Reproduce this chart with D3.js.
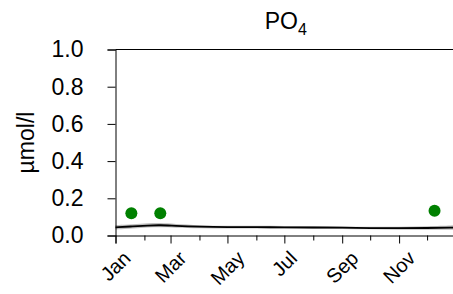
<!DOCTYPE html>
<html>
<head>
<meta charset="utf-8">
<script src="https://cdn.jsdelivr.net/npm/d3@7"></script>
<style>
  body { margin: 0; background: #fff; }
  text { font-family: "Liberation Sans", Arial, sans-serif; fill: #000; }
</style>
</head>
<body>
<svg></svg>
<script>
var width = 453;
var height = 294;

// smoothed seasonal fit of PO4 with its band
var fitDates = ["2021-01-01", "2021-01-20", "2021-02-05", "2021-02-18", "2021-03-05", "2021-04-01", "2021-05-01",
                "2021-06-01", "2021-07-01", "2021-08-01", "2021-09-01", "2021-10-01", "2021-11-01", "2021-12-01", "2021-12-31"];
var fitMean  = [0.044, 0.049, 0.054, 0.056, 0.052, 0.047, 0.045, 0.045, 0.044, 0.043, 0.042, 0.040, 0.039, 0.040, 0.043];
var fitLow   = [0.032, 0.038, 0.043, 0.045, 0.042, 0.039, 0.038, 0.038, 0.037, 0.036, 0.035, 0.033, 0.031, 0.030, 0.031];
var fitHigh  = [0.056, 0.060, 0.066, 0.068, 0.062, 0.055, 0.052, 0.052, 0.051, 0.050, 0.049, 0.047, 0.047, 0.050, 0.055];

// observations
var obsDates  = ["2021-01-18", "2021-02-18", "2021-12-09"];
var obsValues = [0.12, 0.12, 0.133];

var yTicks = [0, 0.2, 0.4, 0.6, 0.8, 1.0];

var svg = d3.select('svg')
    .attr('width', width)
    .attr('height', height);

var parse = d3.timeParse("%Y-%m-%d");

var x = d3.scaleTime()
    .domain([parse("2021-01-01"), parse("2022-01-01")])
    .range([115.5, 456]);

var y = d3.scaleLinear()
    .domain([0, 1])
    .range([235.5, 49.5]);

var fit = fitDates.map(function(d, i) {
  return {date: parse(d), mean: fitMean[i], lo: fitLow[i], hi: fitHigh[i]};
});

// band
svg.append('path')
    .datum(fit)
    .attr('fill', '#bebebe')
    .attr('d', d3.area()
        .curve(d3.curveBasis)
        .x(function(d) { return x(d.date); })
        .y0(function(d) { return y(d.lo); })
        .y1(function(d) { return y(d.hi); }));

svg.append('path')
    .datum(fit)
    .attr('fill', 'none')
    .attr('stroke', '#000')
    .attr('stroke-width', 1.8)
    .attr('d', d3.line()
        .curve(d3.curveBasis)
        .x(function(d) { return x(d.date); })
        .y(function(d) { return y(d.mean); }));

// dots
svg.selectAll('circle')
    .data(obsDates)
    .enter()
    .append('circle')
    .attr('cx', function(d) { return x(parse(d)); })
    .attr('cy', function(d, i) { return y(obsValues[i]); })
    .attr('r', 6)
    .attr('fill', '#008000');

// top spine
svg.append('line')
    .attr('x1', x.range()[0]).attr('x2', x.range()[1])
    .attr('y1', y(1)).attr('y2', y(1))
    .attr('stroke', '#000').attr('stroke-width', 1);

// y axis
var yAxis = svg.append('g')
    .attr('transform', 'translate(' + x.range()[0] + ',0)')
    .call(d3.axisLeft(y).tickValues(yTicks).tickFormat(d3.format('.1f')).tickSize(8).tickPadding(24));
yAxis.selectAll('text').style('font-size', '23px');
yAxis.selectAll('line, path').attr('stroke', '#000');

// x axis, monthly ticks, labels every other month
var months = d3.timeMonth.range(parse("2021-01-01"), parse("2022-01-01"));
var xAxis = svg.append('g')
    .attr('transform', 'translate(0,' + y(0) + ')')
    .call(d3.axisBottom(x).tickValues(months).tickSize(8).tickFormat(''));
xAxis.selectAll('.tick line')
    .attr('y2', function(d, i) { return i % 2 === 0 ? 8 : 5; });
xAxis.selectAll('line, path').attr('stroke', '#000');

var labels = months.filter(function(d, i) { return i % 2 === 0; });
var fmt = d3.timeFormat('%b');
var fs = 20;
labels.forEach(function(d) {
  var t = svg.append('text')
      .style('font-size', fs + 'px')
      .attr('text-anchor', 'middle')
      .attr('dominant-baseline', 'central')
      .text(fmt(d));
  var len = t.node().getComputedTextLength();
  var h = fs * 1.0;
  var half = (len + h) / Math.SQRT2 / 2;
  t.attr('transform', 'translate(' + x(d) + ',' + (y(0) + 12 + half) + ') rotate(-45)');
});

// y label
svg.append('text')
    .attr('transform', 'translate(34,' + ((y(0) + y(1)) / 2) + ') rotate(-90)')
    .attr('text-anchor', 'middle')
    .style('font-size', '23px')
    .text('µmol/l');

// title
var title = svg.append('text')
    .attr('x', (x.range()[0] + x.range()[1]) / 2)
    .attr('y', 29)
    .attr('text-anchor', 'middle')
    .style('font-size', '23px');
title.append('tspan').text('PO');
title.append('tspan').attr('dy', 6).style('font-size', '16px').text('4');
</script>
</body>
</html>
